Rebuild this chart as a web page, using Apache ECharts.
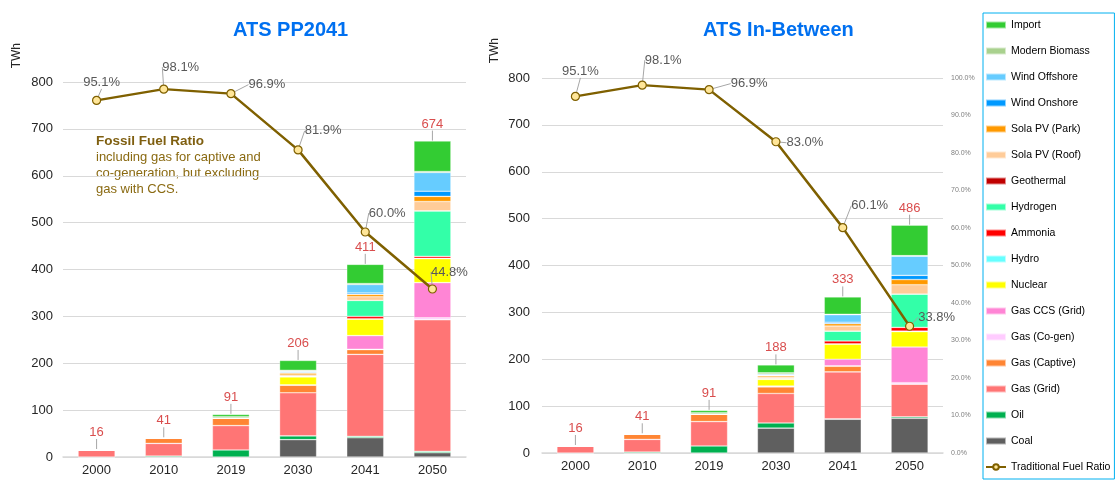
<!DOCTYPE html>
<html>
<head>
<meta charset="utf-8">
<script src="https://cdn.jsdelivr.net/npm/echarts@6/dist/echarts.min.js"></script>
<style>
html, body { margin: 0; padding: 0; background: #fff; }
#main { width: 1120px; height: 482px; }
</style>
</head>
<body>
<div id="main"></div>
<script>
var years = ['2000', '2010', '2019', '2030', '2041', '2050'];

// stack order, bottom to top
var fuelNames = ['Coal', 'Oil', 'Gas (Grid)', 'Gas (Captive)', 'Gas (Co-gen)', 'Gas CCS (Grid)',
    'Nuclear', 'Hydro', 'Ammonia', 'Hydrogen', 'Geothermal', 'Sola PV (Roof)', 'Sola PV (Park)',
    'Wind Onshore', 'Wind Offshore', 'Modern Biomass', 'Import'];
var fuelColors = ['#5F5F5F', '#00B050', '#FF7575', '#FF8533', '#FFCCFF', '#FF85D5',
    '#FFFF00', '#66FFFF', '#FF0000', '#33FFA8', '#C00000', '#FFCC99', '#FF9900',
    '#0099FF', '#66CCFF', '#A9D18E', '#33CC33'];

// ATS PP2041 (TWh)
var ppCoal       = [0, 0, 0, 37, 41, 9];
var ppOil        = [0, 2, 15, 8, 3, 3];
var ppGasGrid    = [15, 27, 52, 92, 175, 281];
var ppGasCaptive = [0, 11, 16, 16, 10, 0];
var ppGasCogen   = [0, 0, 0, 1, 1, 4];
var ppGasCcs     = [0, 0, 0, 0, 29, 75];
var ppNuclear    = [0, 0, 0, 17, 35, 51];
var ppHydro      = [0, 0, 0, 1, 1, 1];
var ppAmmonia    = [0, 0, 0, 0, 5, 4];
var ppHydrogen   = [0, 0, 0, 0, 34, 97];
var ppGeothermal = [0, 0, 0, 0, 0, 0];
var ppSolarRoof  = [0, 0, 0, 3, 8, 20];
var ppSolarPark  = [0, 0, 0, 4, 5, 11];
var ppWindOn     = [0, 0, 0, 2, 3, 11];
var ppWindOff    = [0, 0, 0, 2, 18, 40];
var ppBiomass    = [1, 1, 3, 2, 2, 2];
var ppImport     = [0, 0, 5, 21, 41, 65];
var ppTotal      = [16, 41, 91, 206, 411, 674];
var ppRatio      = [95.1, 98.1, 96.9, 81.9, 60.0, 44.8];

// ATS In-Between (TWh)
var ibCoal       = [0, 0, 0, 53, 72, 74];
var ibOil        = [0, 2, 15, 11, 1, 3];
var ibGasGrid    = [15, 27, 52, 63, 100, 70];
var ibGasCaptive = [0, 11, 16, 14, 12, 0];
var ibGasCogen   = [0, 0, 0, 2, 1, 3];
var ibGasCcs     = [0, 0, 0, 0, 14, 76];
var ibNuclear    = [0, 0, 0, 14, 32, 33];
var ibHydro      = [0, 0, 0, 2, 1, 1];
var ibAmmonia    = [0, 0, 0, 0, 6, 8];
var ibHydrogen   = [0, 0, 0, 0, 21, 71];
var ibGeothermal = [0, 0, 0, 0, 0, 0];
var ibSolarRoof  = [0, 0, 0, 3, 11, 20];
var ibSolarPark  = [0, 0, 0, 3, 5, 11];
var ibWindOn     = [0, 0, 0, 1, 3, 9];
var ibWindOff    = [0, 0, 0, 2, 16, 41];
var ibBiomass    = [1, 1, 3, 3, 1, 1];
var ibImport     = [0, 0, 5, 17, 37, 65];
var ibTotal      = [16, 41, 91, 188, 333, 486];
var ibRatio      = [95.1, 98.1, 96.9, 83.0, 60.1, 33.8];

var ppStack = [ppCoal, ppOil, ppGasGrid, ppGasCaptive, ppGasCogen, ppGasCcs, ppNuclear, ppHydro,
    ppAmmonia, ppHydrogen, ppGeothermal, ppSolarRoof, ppSolarPark, ppWindOn, ppWindOff, ppBiomass, ppImport];
var ibStack = [ibCoal, ibOil, ibGasGrid, ibGasCaptive, ibGasCogen, ibGasCcs, ibNuclear, ibHydro,
    ibAmmonia, ibHydrogen, ibGeothermal, ibSolarRoof, ibSolarPark, ibWindOn, ibWindOff, ibBiomass, ibImport];

// label offsets of the ratio labels (px from the point)
var ppLabelShift = [[5, -18], [17, -22], [36, -9], [25, -19], [22, -19], [17, -17]];
var ibLabelShift = [[5, -25], [21, -25], [40, -6], [29, 1], [27, -22], [27, -9]];

var FONT = 'Arial, "Liberation Sans", sans-serif';
var GOLD = '#7F6000';

function buildSeries(stack, totals, ratio, shifts, g) {
    var out = [];
    for (var i = 0; i < fuelNames.length; i++) {
        out.push({
            name: fuelNames[i],
            type: 'bar',
            stack: 'twh' + g,
            xAxisIndex: g,
            yAxisIndex: g * 2,
            barWidth: 37,
            itemStyle: { color: fuelColors[i], borderColor: 'rgba(255,255,255,0.55)', borderWidth: 0.6 },
            emphasis: { disabled: true },
            data: stack[i]
        });
    }
    out.push({
        name: 'Total',
        type: 'scatter',
        xAxisIndex: g,
        yAxisIndex: g * 2,
        symbolSize: 1,
        itemStyle: { color: 'rgba(0,0,0,0)' },
        label: { show: true, position: 'top', distance: 6, color: '#D02020', fontSize: 13, fontFamily: FONT },
        labelLine: { show: true, lineStyle: { color: '#A6A6A6', width: 1 } },
        labelLayout: { dy: -4 },
        emphasis: { disabled: true },
        z: 5,
        data: totals
    });
    out.push({
        name: 'Traditional Fuel Ratio',
        type: 'line',
        xAxisIndex: g,
        yAxisIndex: g * 2 + 1,
        symbol: 'circle',
        symbolSize: 8,
        lineStyle: { color: GOLD, width: 2.5 },
        itemStyle: { color: '#FFE699', borderColor: GOLD, borderWidth: 1.2 },
        label: {
            show: true, position: 'inside', color: '#595959', fontSize: 13, fontFamily: FONT,
            formatter: function (p) { return p.value.toFixed(1) + '%'; }
        },
        labelLine: { show: true, lineStyle: { color: '#A6A6A6', width: 1 } },
        labelLayout: function (p) {
            var s = shifts[p.dataIndex];
            return { dx: s[0], dy: s[1] };
        },
        emphasis: { disabled: true },
        z: 10,
        data: ratio
    });
    return out;
}

function xAx(g) {
    return {
        gridIndex: g, type: 'category', data: years,
        axisTick: { show: false },
        axisLine: { lineStyle: { color: '#D9D9D9', width: 1.5 } },
        axisLabel: { color: '#262626', fontSize: 13, fontFamily: FONT, margin: 7 }
    };
}
function yAx(g, margin) {
    return {
        gridIndex: g, type: 'value', min: 0, max: 800, interval: 100,
        axisLine: { show: false }, axisTick: { show: false },
        splitLine: { lineStyle: { color: '#D9D9D9', width: 1 } },
        axisLabel: { color: '#262626', fontSize: 13, fontFamily: FONT, margin: margin }
    };
}

var legendData = fuelNames.slice().reverse().map(function (n) { return { name: n, icon: 'rect' }; });
legendData.push({ name: 'Traditional Fuel Ratio' });

var chart = echarts.init(document.getElementById('main'));
chart.setOption({
    animation: false,
    title: [
        { text: 'ATS PP2041', left: 228, top: 15, textStyle: { color: '#0070F0', fontSize: 20, fontWeight: 'bold', fontFamily: FONT } },
        { text: 'ATS In-Between', left: 698, top: 15, textStyle: { color: '#0070F0', fontSize: 20, fontWeight: 'bold', fontFamily: FONT } }
    ],
    legend: {
        orient: 'vertical',
        left: 983,
        top: 13,
        padding: [5, 4, 5, 2],
        itemWidth: 20,
        itemHeight: 7,
        itemGap: 12,
        borderColor: '#00B0F0',
        borderWidth: 1,
        textStyle: { color: '#000', fontSize: 10.5, lineHeight: 14, fontFamily: FONT },
        selectedMode: false,
        data: legendData
    },
    grid: [
        { left: 63, right: 654, top: 82, bottom: 25 },
        { left: 542, right: 177, top: 78, bottom: 29 }
    ],
    xAxis: [xAx(0), xAx(1)],
    yAxis: [
        yAx(0, 10),
        { gridIndex: 0, type: 'value', min: 0, max: 100, interval: 10, show: false, splitLine: { show: false } },
        yAx(1, 12),
        {
            gridIndex: 1, type: 'value', min: 0, max: 100, interval: 10, position: 'right',
            axisLine: { show: false }, axisTick: { show: false }, splitLine: { show: false },
            axisLabel: { color: '#7F7F7F', fontSize: 7, fontFamily: FONT, margin: 8,
                formatter: function (v) { return v.toFixed(1) + '%'; } }
        }
    ],
    graphic: [
        { type: 'text', left: 11, top: 43, rotation: Math.PI / 2,
          style: { text: 'TWh', fill: '#262626', font: '12px ' + FONT } },
        { type: 'text', left: 489, top: 38, rotation: Math.PI / 2,
          style: { text: 'TWh', fill: '#262626', font: '12px ' + FONT } },
        { type: 'text', left: 96, top: 133,
          style: {
              text: '{b|Fossil Fuel Ratio}\nincluding gas for captive and\nco-generation, but excluding\ngas with CCS.',
              fill: '#8A6A12', font: '13px ' + FONT, lineHeight: 16,
              rich: { b: { fontWeight: 'bold', fontSize: 13.5, fill: '#7F5F10', lineHeight: 16 } }
          } }
    ],
    series: buildSeries(ppStack, ppTotal, ppRatio, ppLabelShift, 0)
        .concat(buildSeries(ibStack, ibTotal, ibRatio, ibLabelShift, 1))
});
</script>
</body>
</html>
